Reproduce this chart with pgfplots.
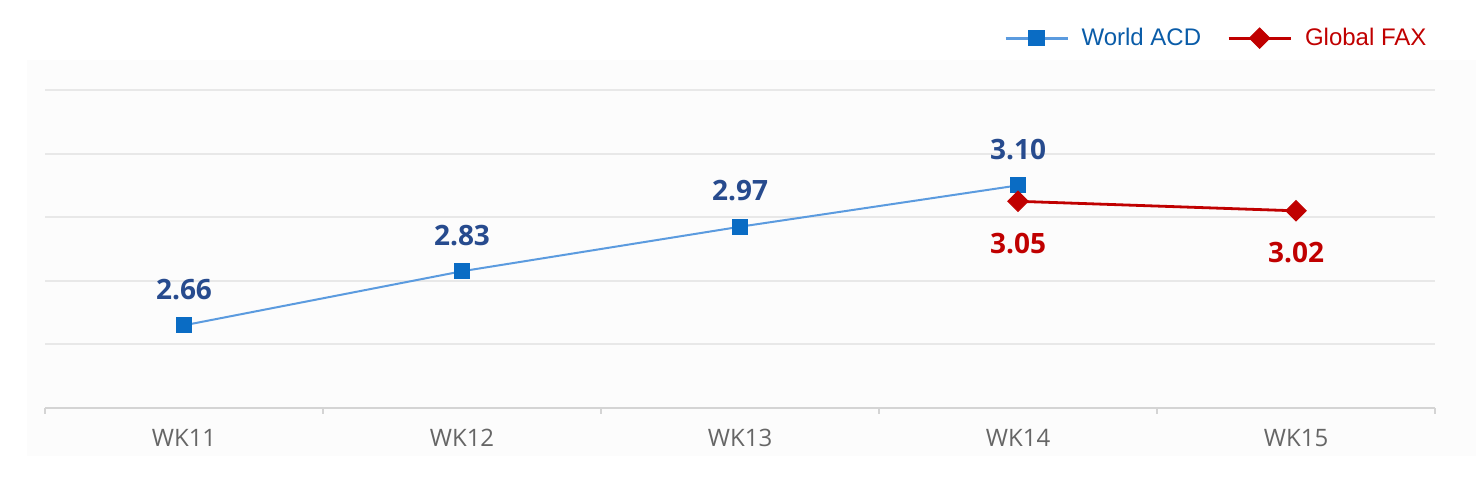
\documentclass[border=0pt]{standalone}
\usepackage{pgfplots}
\pgfplotsset{compat=1.18}
\usepackage{fontspec}
\setmainfont{Open Sans}
\newfontfamily\legfont{Liberation Sans}
\definecolor{acdline}{HTML}{5B9BDF}
\definecolor{acdmark}{HTML}{0A6CC4}
\definecolor{acdlabel}{HTML}{274B8E}
\definecolor{faxred}{HTML}{C00000}
\definecolor{gridc}{HTML}{E8E8E8}
\definecolor{axisc}{HTML}{D4D4D4}
\definecolor{tickc}{HTML}{666666}
\definecolor{legblue}{HTML}{0A5CA8}
\begin{document}
\begin{tikzpicture}
% page size 1476x480 px at 0.5pt per px, axis corner at (45px, 408px)
\useasboundingbox (-22.5pt,-36pt) rectangle (715.5pt,204pt);
\fill[black!1.2] (-9pt,-24pt) rectangle (715.5pt,174pt);
\begin{axis}[
    at={(0pt,0pt)}, anchor=south west,
    scale only axis,
    width=695pt, height=159pt,
    xmin=-0.5, xmax=4.5,
    ymin=2.4, ymax=3.4,
    xtick={0,1,2,3,4},
    xticklabels={WK11,WK12,WK13,WK14,WK15},
    minor xtick={-0.5,0.5,1.5,2.5,3.5,4.5},
    major x tick style={draw=none},
    minor x tick style={draw=axisc, line width=1pt},
    minor tick length=3pt,
    tick align=outside,
    x tick label style={font=\fontsize{12}{14}\selectfont, text=tickc, yshift=-3pt},
    ytick={2.6,2.8,3.0,3.2,3.4},
    yticklabels={},
    major y tick style={draw=none},
    ymajorgrids,
    grid style={draw=gridc, line width=1pt},
    axis x line*=bottom,
    axis y line*=left,
    x axis line style={draw=axisc, line width=1pt, -},
    y axis line style={draw=none},
    clip=false,
    legend columns=2,
    legend style={at={(0.997,1.163)}, anchor=east, draw=none, fill=none,
        font=\legfont\fontsize{12}{14}\selectfont,
        /tikz/every even column/.append style={column sep=11pt},
        inner sep=0pt},
    legend image code/.code={
        \draw[#1, line width=1.5pt, mark repeat=2, mark phase=2]
        plot coordinates {(0pt,0pt) (15.5pt,0pt) (31pt,0pt)};
        \path (35.5pt,0pt);},
    nodes near coords,
    /pgf/number format/.cd, fixed, fixed zerofill, precision=2, assume math mode=true,
]
\addplot[acdline, line width=1pt, mark=square*,
    mark options={draw=acdmark, fill=acdmark, mark size=3.8pt, line width=0.5pt},
    every node near coord/.append style={font=\bfseries\fontsize{14}{16}\selectfont,
        text=acdlabel, anchor=center, yshift=18pt}]
    coordinates {(0,2.66) (1,2.83) (2,2.97) (3,3.10)};
\addlegendentry{\textcolor{legblue}{World ACD}}
\addplot[faxred, line width=1.4pt, mark=square*,
    mark options={draw=faxred, fill=faxred, mark size=3.6pt, rotate=45, line width=0.5pt},
    every node near coord/.append style={font=\bfseries\fontsize{14}{16}\selectfont,
        text=faxred, anchor=center, yshift=-21pt}]
    coordinates {(3,3.05) (4,3.02)};
\addlegendentry{\textcolor{faxred}{Global FAX}}
\end{axis}
\end{tikzpicture}
\end{document}
